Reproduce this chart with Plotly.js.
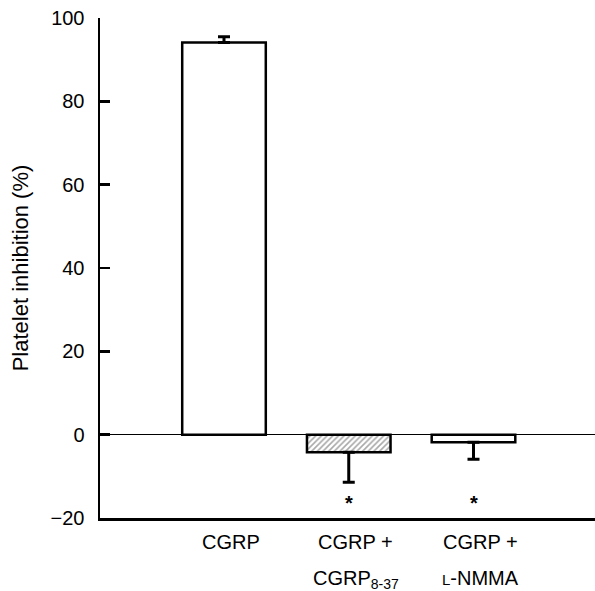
<!DOCTYPE html>
<html>
<head>
<meta charset="utf-8">
<script src="https://cdn.plot.ly/plotly-3.0.1.min.js"></script>
<style>html,body{margin:0;padding:0;background:#fff;}#chart{width:595px;height:591px;}</style>
</head>
<body>
<div id="chart"></div>
<script>
var categories = ["CGRP", "CGRP + CGRP8-37", "CGRP + L-NMMA"];
var labelLine1 = ["CGRP", "CGRP +", "CGRP +"];
var labelLine2 = ["", "CGRP<sub>8-37</sub>", "<span style='font-size:15px'>L</span>-NMMA"];
var inhibition = [94.1, -4.2, -1.8];
var errPlus = [1.4, 0, 0];
var errMinus = [0, 7.2, 4.1];
var significant = [false, true, true];
var yTicks = [-20, 0, 20, 40, 60, 80, 100];

var FONT = "Liberation Sans, Arial, sans-serif";
var xIdx = categories.map(function(_, i){ return i; });

var trace = {
  type: "bar",
  x: xIdx,
  y: inhibition,
  width: 0.67,
  marker: {
    color: ["#ffffff", "#a8a8a8", "#ffffff"],
    line: {color: "#000", width: 2.5},
    pattern: {shape: ["", "/", ""], fgcolor: "#2a2a2a", bgcolor: "#b0b0b0", size: 4, solidity: 0.4}
  },
  error_y: {type: "data", symmetric: false, array: errPlus, arrayminus: errMinus,
            color: "#000", thickness: 3, width: 6},
  hoverinfo: "skip"
};

var STAR_Y = -13.3;
var annotations = [];
xIdx.forEach(function(i){
  annotations.push({x: i, y: -0.022, xref: "x", yref: "paper", yanchor: "top", xshift: 7,
    text: labelLine1[i], showarrow: false, font: {family: FONT, size: 20, color: "#000"}});
  if (labelLine2[i]) annotations.push({x: i, y: -0.094, xref: "x", yref: "paper", yanchor: "top", xshift: 7,
    text: labelLine2[i], showarrow: false, font: {family: FONT, size: 20, color: "#000"}});
  if (significant[i]) annotations.push({x: i, y: STAR_Y, xref: "x", yref: "y", yanchor: "top",
    text: "<b>*</b>", showarrow: false, font: {family: FONT, size: 20, color: "#000"}});
});

var layout = {
  width: 595, height: 591,
  margin: {l: 100, r: 0, t: 18, b: 73},
  paper_bgcolor: "#fff", plot_bgcolor: "#fff",
  showlegend: false,
  font: {family: FONT, color: "#000"},
  xaxis: {range: [-0.994, 2.974], showticklabels: false, ticks: "", showgrid: false,
          zeroline: false, showline: true, linecolor: "#000", linewidth: 2.5, fixedrange: true},
  yaxis: {range: [-20, 100], tickvals: yTicks, ticktext: yTicks.map(function(v){return v < 0 ? "\u2212" + (-v) : String(v);}),
          ticks: "inside", ticklen: 10, tickwidth: 2.5, tickcolor: "#000",
          showline: true, linecolor: "#000", linewidth: 2.5, showgrid: false,
          zeroline: true, zerolinecolor: "#000", zerolinewidth: 1,
          tickfont: {family: FONT, size: 20, color: "#000"}, ticklabelstandoff: 9,
          title: {text: "Platelet inhibition (%)", font: {family: FONT, size: 22, color: "#000"}, standoff: 16},
          fixedrange: true},
  annotations: annotations,
  bargap: 0.3
};

Plotly.newPlot("chart", [trace], layout, {displayModeBar: false, staticPlot: true});
</script>
</body>
</html>
